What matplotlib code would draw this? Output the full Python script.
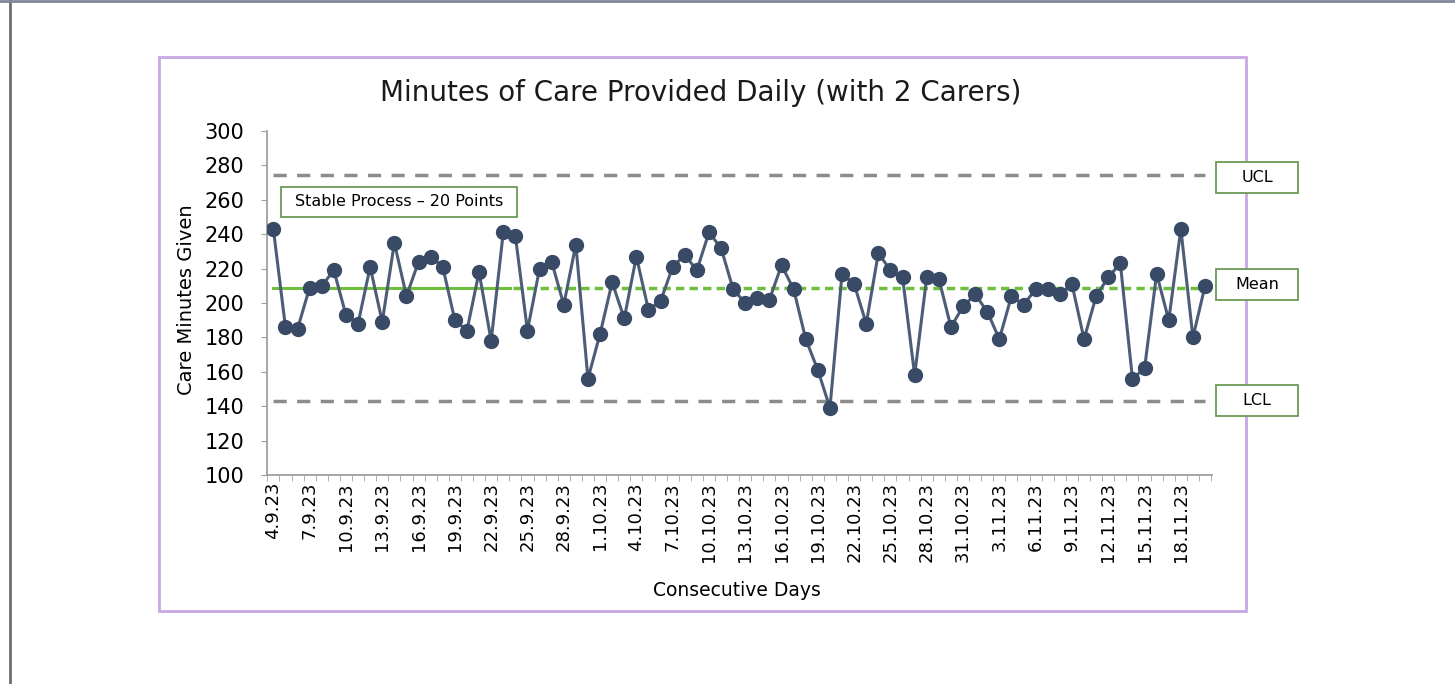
import numpy as np
import pandas as pd
import matplotlib
matplotlib.use("Agg")
import matplotlib.pyplot as plt
from matplotlib.patches import Rectangle
from matplotlib.lines import Line2D

# daily care minutes, 4 Sep 2023 .. 20 Nov 2023
minutes = [243, 186, 185, 209, 210, 219, 193, 188, 221, 189,
           235, 204, 224, 227, 221, 190, 184, 218, 178, 241,
           239, 184, 220, 224, 199, 234, 156, 182, 212, 191,
           227, 196, 201, 221, 228, 219, 241, 232, 208, 200,
           203, 202, 222, 208, 179, 161, 139, 217, 211, 188,
           229, 219, 215, 158, 215, 214, 186, 198, 205, 195,
           179, 204, 199, 208, 208, 205, 211, 179, 204, 215,
           223, 156, 162, 217, 190, 243, 180, 210]
days = pd.date_range("2023-09-04", periods=len(minutes))
day_labels = [f"{d.day}.{d.month}.23" for d in days]

mean_val = 208.6
ucl = 274.2
lcl = 143.0
stable_n = 20

W, H = 1455, 684
fig = plt.figure(figsize=(W / 100, H / 100), dpi=100)
plt.rcParams['font.family'] = ['DejaVu Sans']

def fx(px):
    return px / W

def fy(py):
    return 1 - py / H

# outer frame and chart border
fig.add_artist(Line2D([fx(10), fx(10)], [0, 1], color='#6e6e6e', lw=2))
fig.add_artist(Line2D([0, 1], [fy(1), fy(1)], color='#7d8798', lw=2))
fig.add_artist(Rectangle((fx(159), fy(611)), fx(1246 - 159), (611 - 57) / H,
                         fill=False, edgecolor='#c8a8e4', lw=2))

ax = fig.add_axes([fx(266.7), fy(475), fx(1211.7 - 266.7), (475 - 131) / H])
x = np.arange(len(minutes))

ax.plot([x[0], x[-1]], [ucl, ucl], color='#8c8c8c', lw=2.5, dashes=(3.8, 3.0))
ax.plot([x[0], x[-1]], [lcl, lcl], color='#8c8c8c', lw=2.5, dashes=(3.8, 3.0))
ax.plot([x[0], stable_n - 0.45], [mean_val, mean_val], color='#6fbf3f', lw=2.2)
ax.plot([stable_n - 0.2, x[-1]], [mean_val, mean_val], color='#6fbf3f', lw=2.5,
        dashes=(2.4, 1.5))
ax.plot(x, minutes, color='#4d5d78', lw=2.2, marker='o', markersize=10,
        markerfacecolor='#384a66', markeredgecolor='#384a66', zorder=5)

ax.set_xlim(-0.55, len(minutes) - 0.45)
ax.set_ylim(100, 300)
ax.set_yticks(range(100, 301, 20))
ax.set_xticks(x[::3])
ax.set_xticklabels(day_labels[::3], rotation=90)
ax.set_xticks(np.arange(len(minutes) + 1) - 0.5, minor=True)
ax.tick_params(axis='x', which='major', length=0, pad=5, labelsize=13)
ax.tick_params(axis='x', which='minor', length=4, color='#a0a0a0')
ax.tick_params(axis='y', length=4, color='#a0a0a0', labelsize=15, pad=12)

for s in ['top', 'right']:
    ax.spines[s].set_visible(False)
for s in ['left', 'bottom']:
    ax.spines[s].set_color('#a0a0a0')
    ax.spines[s].set_linewidth(1.3)

fig.text(fx(701), fy(93), "Minutes of Care Provided Daily (with 2 Carers)",
         ha='center', va='center', fontsize=20, color='#1a1a1a')
fig.text(fx(187), fy(300), "Care Minutes Given", rotation=90,
         ha='center', va='center', fontsize=14)
fig.text(fx(737), fy(590), "Consecutive Days", ha='center', va='center',
         fontsize=13.5)

# annotation boxes
boxes = [(281, 517, 187, 217, "Stable Process \u2013 20 Points"),
         (1216, 1298, 162, 193, "UCL"),
         (1216, 1298, 269, 300, "Mean"),
         (1216, 1298, 385, 416, "LCL")]
for x0, x1, y0, y1, txt in boxes:
    fig.add_artist(Rectangle((fx(x0), fy(y1)), fx(x1 - x0), (y1 - y0) / H,
                             facecolor='white', edgecolor='#6a9a55', lw=1.3,
                             zorder=10))
    fig.text(fx((x0 + x1) / 2), fy((y0 + y1) / 2), txt, ha='center',
             va='center', fontsize=11.5, zorder=11)

fig.savefig("out.png", dpi=100)
